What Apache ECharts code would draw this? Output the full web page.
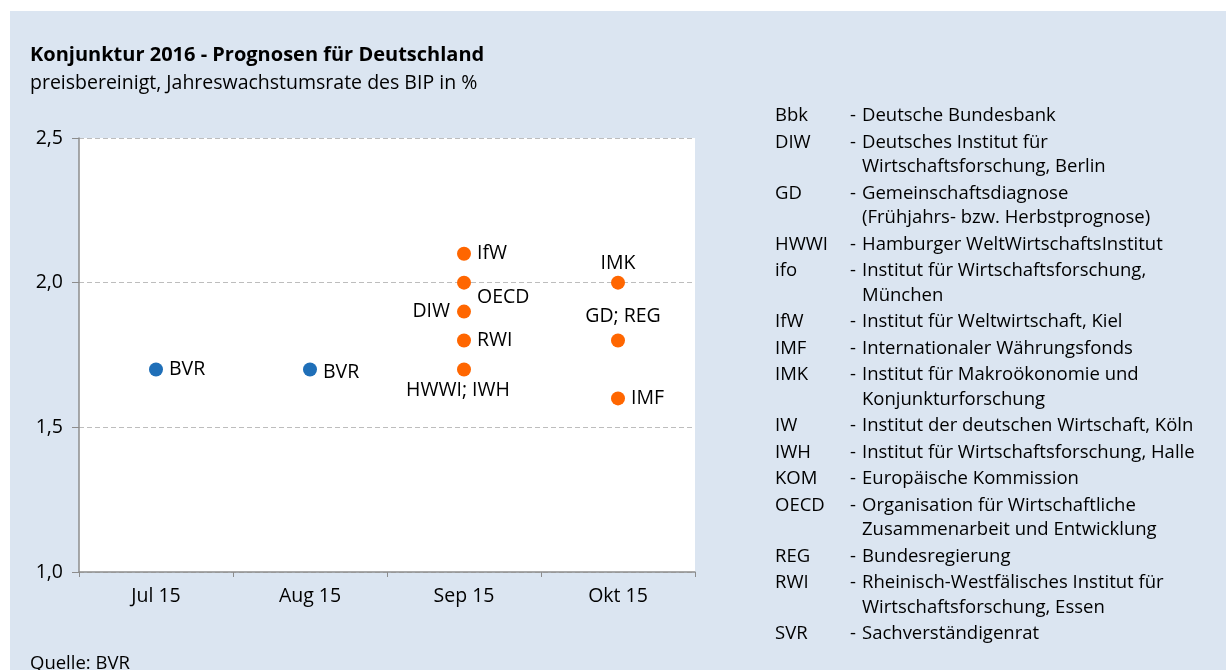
<!DOCTYPE html>
<html>
<head>
<meta charset="utf-8">
<script src="https://cdn.jsdelivr.net/npm/echarts@6/dist/echarts.min.js"></script>
<style>
html,body{margin:0;padding:0;background:#fff;}
#main{width:1226px;height:670px;}
</style>
</head>
<body>
<div id="main"></div>
<script>
// Kategorien (Monate der Prognose)
var months = ['Jul 15', 'Aug 15', 'Sep 15', 'Okt 15'];
var yTicks = [1.0, 1.5, 2.0, 2.5];

// BVR-Prognosen (blau)
var bvrMonths = ['Jul 15', 'Aug 15'];
var bvrValues = [1.7, 1.7];
var bvrNames = ['BVR', 'BVR'];

// andere Institute (orange)
var instMonths = ['Sep 15', 'Sep 15', 'Sep 15', 'Sep 15', 'Sep 15', 'Okt 15', 'Okt 15', 'Okt 15'];
var instValues = [2.1, 2.0, 1.9, 1.8, 1.7, 2.0, 1.8, 1.6];
var instNames = ['IfW', 'OECD', 'DIW', 'RWI', 'HWWI; IWH', 'IMK', 'GD; REG', 'IMF'];

// Abkuerzungsverzeichnis
var legendAbbr = ['Bbk', 'DIW', 'GD', 'HWWI', 'ifo', 'IfW', 'IMF', 'IMK', 'IW', 'IWH', 'KOM', 'OECD', 'REG', 'RWI', 'SVR'];
var legendDesc = [
    'Deutsche Bundesbank',
    'Deutsches Institut für\nWirtschaftsforschung, Berlin',
    'Gemeinschaftsdiagnose\n(Frühjahrs- bzw. Herbstprognose)',
    'Hamburger WeltWirtschaftsInstitut',
    'Institut für Wirtschaftsforschung,\nMünchen',
    'Institut für Weltwirtschaft, Kiel',
    'Internationaler Währungsfonds',
    'Institut für Makroökonomie und\nKonjunkturforschung',
    'Institut der deutschen Wirtschaft, Köln',
    'Institut für Wirtschaftsforschung, Halle',
    'Europäische Kommission',
    'Organisation für Wirtschaftliche\nZusammenarbeit und Entwicklung',
    'Bundesregierung',
    'Rheinisch-Westfälisches Institut für\nWirtschaftsforschung, Essen',
    'Sachverständigenrat'
];

var FONT = 'Open Sans';
var LFONT = '18.5px "' + FONT + '"';

// Lage der Beschriftungen je Punkt
var labelPlace = {
    'IfW': {position: 'right', distance: 6},
    'OECD': {position: 'right', distance: 6, offset: [0, 15]},
    'DIW': {position: 'left', distance: 7},
    'RWI': {position: 'right', distance: 6},
    'HWWI; IWH': {position: 'bottom', distance: 4, offset: [-6, 0]},
    'IMK': {position: 'top', distance: 2},
    'GD; REG': {position: 'top', distance: 7, offset: [5, 0]},
    'IMF': {position: 'right', distance: 6},
    'BVR': {position: 'right', distance: 6}
};

function buildData(ms, vs, ns) {
    var out = [];
    for (var i = 0; i < ms.length; i++) {
        var p = labelPlace[ns[i]];
        var lab = {show: true, formatter: ns[i], position: p.position, distance: p.distance};
        if (p.offset) lab.offset = p.offset;
        out.push({value: [ms[i], vs[i]], label: lab});
    }
    return out;
}

var bvrData = buildData(bvrMonths, bvrValues, bvrNames);
bvrData[1].label.offset = [0, 3];

// Hintergrund, Titel, Quelle
var graphics = [{
    type: 'rect', left: 10, top: 11, z: -10,
    shape: {width: 1216, height: 659},
    style: {fill: '#dbe5f1'}
}, {
    type: 'text', left: 30, top: 45,
    style: {text: 'Konjunktur 2016 - Prognosen für Deutschland', font: 'bold 20px "' + FONT + '"', fill: '#000'}
}, {
    type: 'text', left: 30, top: 73,
    style: {text: 'preisbereinigt, Jahreswachstumsrate des BIP in %', font: '19.5px "' + FONT + '"', fill: '#000'}
}, {
    type: 'text', left: 30, top: 654,
    style: {text: 'Quelle: BVR', font: LFONT, fill: '#000'}
}];

// Legende als Text rechts
var lineH = 24.5, y = 116;
for (var i = 0; i < legendAbbr.length; i++) {
    var n = legendDesc[i].split('\n').length;
    graphics.push({type: 'text', x: 775, y: y,
        style: {text: legendAbbr[i], font: LFONT, fill: '#000', verticalAlign: 'middle'}});
    graphics.push({type: 'text', x: 850, y: y,
        style: {text: '-', font: LFONT, fill: '#000', verticalAlign: 'middle'}});
    graphics.push({type: 'text', x: 862, y: y - lineH / 2,
        style: {text: legendDesc[i], font: LFONT, lineHeight: lineH, fill: '#000', verticalAlign: 'top'}});
    y += n * lineH + 2;
}

var myChart = echarts.init(document.getElementById('main'));
myChart.setOption({
    backgroundColor: '#fff',
    animation: false,
    textStyle: {fontFamily: FONT},
    grid: {left: 79, right: 531, top: 138, bottom: 98, show: true, backgroundColor: '#fff', borderWidth: 0},
    xAxis: {
        type: 'category',
        data: months,
        boundaryGap: true,
        axisLine: {lineStyle: {color: '#8c8c8c', width: 1.5}},
        axisTick: {show: true, length: 5, lineStyle: {color: '#8c8c8c'}},
        axisLabel: {color: '#000', fontSize: 19.5, margin: 14, fontFamily: FONT},
        splitLine: {show: false}
    },
    yAxis: {
        type: 'value',
        min: yTicks[0], max: yTicks[yTicks.length - 1], interval: 0.5,
        axisLine: {show: true, lineStyle: {color: '#8c8c8c', width: 1.5}},
        axisTick: {show: true, length: 7, lineStyle: {color: '#8c8c8c'}},
        axisLabel: {color: '#000', fontSize: 19.5, margin: 16, fontFamily: FONT,
            formatter: function (v) { return v.toFixed(1).replace('.', ','); }},
        splitLine: {show: true, lineStyle: {color: '#bdbdbd', type: [5, 3], width: 1.2}}
    },
    series: [{
        type: 'scatter',
        symbolSize: 14,
        itemStyle: {color: '#1f6fb8', opacity: 1},
        label: {color: '#000', fontSize: 19.5, fontFamily: FONT},
        data: bvrData
    }, {
        type: 'scatter',
        symbolSize: 14,
        itemStyle: {color: '#ff6600', opacity: 1},
        label: {color: '#000', fontSize: 19.5, fontFamily: FONT},
        data: buildData(instMonths, instValues, instNames)
    }],
    graphic: graphics
});
</script>
</body>
</html>
